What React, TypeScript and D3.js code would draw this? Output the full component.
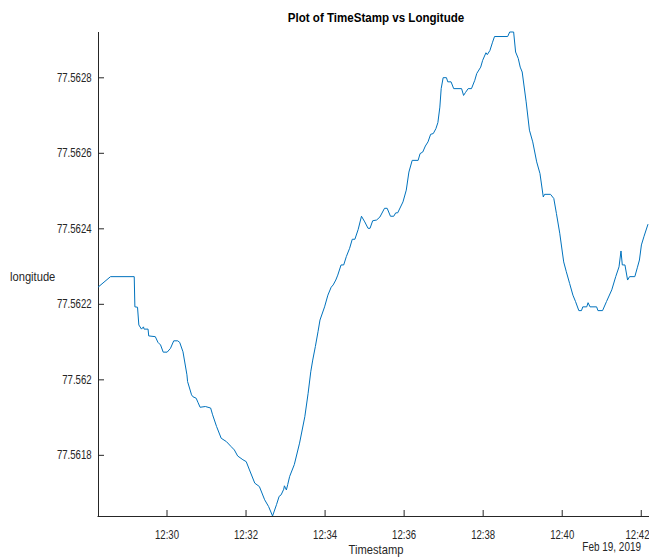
import React, { useEffect, useRef } from 'react'
import * as d3 from 'd3'

// readings from the GPS log, 19 Feb 2019
const timestamps = [
  '12:28:16', '12:28:35', '12:29:11', '12:29:12', '12:29:16', '12:29:18', '12:29:22', '12:29:25',
  '12:29:26', '12:29:32', '12:29:33', '12:29:43', '12:29:47', '12:29:51', '12:29:55', '12:30:01',
  '12:30:06', '12:30:11', '12:30:17', '12:30:20', '12:30:25', '12:30:31', '12:30:32', '12:30:38',
  '12:30:40', '12:30:45', '12:30:48', '12:30:51', '12:30:59', '12:31:07', '12:31:10', '12:31:16',
  '12:31:23', '12:31:31', '12:31:38', '12:31:43', '12:31:48', '12:31:56', '12:32:01', '12:32:06',
  '12:32:14', '12:32:21', '12:32:29', '12:32:35', '12:32:41', '12:32:47', '12:32:51', '12:32:54',
  '12:32:58', '12:32:59', '12:33:02', '12:33:04', '12:33:07', '12:33:14', '12:33:22', '12:33:30',
  '12:33:35', '12:33:39', '12:33:42', '12:33:46', '12:33:50', '12:33:53', '12:34:00', '12:34:05',
  '12:34:10', '12:34:13', '12:34:17', '12:34:20', '12:34:25', '12:34:29', '12:34:33', '12:34:38',
  '12:34:42', '12:34:46', '12:34:51', '12:34:56', '12:35:01', '12:35:06', '12:35:09', '12:35:13',
  '12:35:19', '12:35:24', '12:35:31', '12:35:35', '12:35:40', '12:35:45', '12:35:48', '12:35:51',
  '12:35:59', '12:36:04', '12:36:08', '12:36:13', '12:36:22', '12:36:25', '12:36:29', '12:36:33',
  '12:36:37', '12:36:41', '12:36:45', '12:36:49', '12:36:52', '12:36:55', '12:36:57', '12:37:00',
  '12:37:05', '12:37:07', '12:37:12', '12:37:16', '12:37:28', '12:37:31', '12:37:34', '12:37:38',
  '12:37:43', '12:37:48', '12:37:51', '12:37:57', '12:38:00', '12:38:05', '12:38:07', '12:38:11',
  '12:38:15', '12:38:18', '12:38:38', '12:38:41', '12:38:47', '12:38:50', '12:38:54', '12:38:57',
  '12:39:00', '12:39:06', '12:39:11', '12:39:16', '12:39:22', '12:39:27', '12:39:32', '12:39:34',
  '12:39:43', '12:39:48', '12:39:52', '12:39:57', '12:40:03', '12:40:07', '12:40:12', '12:40:17',
  '12:40:21', '12:40:26', '12:40:30', '12:40:32', '12:40:38', '12:40:40', '12:40:43', '12:40:53',
  '12:40:55', '12:41:02', '12:41:08', '12:41:16', '12:41:22', '12:41:27', '12:41:30', '12:41:32',
  '12:41:36', '12:41:40', '12:41:43', '12:41:51', '12:41:55', '12:41:58', '12:42:01', '12:42:05',
  '12:42:11',
]

const longitudes = [
  77.562244, 77.562272, 77.562272, 77.562192, 77.562191, 77.562144, 77.562133, 77.562139,
  77.562133, 77.562133, 77.562115, 77.562113, 77.562098, 77.562091, 77.562072, 77.562072,
  77.562082, 77.562102, 77.562102, 77.562098, 77.562073, 77.562012, 77.561994, 77.561959,
  77.561954, 77.56195, 77.561938, 77.561926, 77.561928, 77.561924, 77.561906, 77.561875,
  77.561844, 77.561835, 77.561822, 77.561813, 77.561797, 77.561787, 77.561782, 77.56176,
  77.561725, 77.561716, 77.561681, 77.561663, 77.561638, 77.561668, 77.56169, 77.561694,
  77.561709, 77.561718, 77.561707, 77.561721, 77.561743, 77.561774, 77.561831, 77.561901,
  77.561963, 77.56202, 77.562051, 77.562087, 77.562126, 77.562157, 77.562192, 77.562223,
  77.562244, 77.56225, 77.562263, 77.562276, 77.562303, 77.562303, 77.562325, 77.562347,
  77.562371, 77.562371, 77.562397, 77.562432, 77.562417, 77.5624, 77.5624, 77.56242,
  77.562422, 77.56243, 77.562453, 77.562453, 77.562432, 77.562432, 77.562441, 77.562441,
  77.56247, 77.562501, 77.562549, 77.56258, 77.56258, 77.562598, 77.562602, 77.562618,
  77.562629, 77.562649, 77.562651, 77.562664, 77.56268, 77.562721, 77.56277, 77.562799,
  77.562799, 77.562788, 77.562788, 77.56277, 77.56277, 77.562752, 77.56276, 77.56277,
  77.56277, 77.562792, 77.56281, 77.562827, 77.562845, 77.562865, 77.56286, 77.562871,
  77.562893, 77.562908, 77.562908, 77.56292, 77.56292, 77.562867, 77.56285, 77.562827,
  77.562814, 77.562735, 77.56266, 77.562629, 77.562576, 77.562545, 77.562483, 77.56249,
  77.56249, 77.562479, 77.562439, 77.562387, 77.562311, 77.562285, 77.562254, 77.562223,
  77.562206, 77.562182, 77.562182, 77.562192, 77.562192, 77.562203, 77.562192, 77.562192,
  77.562182, 77.562182, 77.562206, 77.562237, 77.562272, 77.562298, 77.56234, 77.562303,
  77.562303, 77.562263, 77.562272, 77.562272, 77.562297, 77.562316, 77.562356, 77.562379,
  77.562411,
]

const yTicks = [77.5618, 77.562, 77.5622, 77.5624, 77.5626, 77.5628]
const dateLabel = 'Feb 19, 2019'

export default function App() {
  const ref = useRef<SVGSVGElement>(null)

  useEffect(() => {
    const width = 649
    const height = 559
    const left = 98
    const top = 32
    const bottom = 516
    const right = 648

    const parse = d3.timeParse('%H:%M:%S')
    const data = timestamps.map((t, i) => ({ t: parse(t) as Date, v: longitudes[i] }))

    const svg = d3.select(ref.current)
    svg.selectAll('*').remove()
    svg.attr('width', width).attr('height', height)

    const x = d3.scaleTime()
      .domain(d3.extent(data, d => d.t) as [Date, Date])
      .range([left, right])
    const y = d3.scaleLinear()
      .domain(d3.extent(data, d => d.v) as [number, number])
      .range([bottom, top])

    const axisColor = '#262626'
    const font = 'Liberation Sans, Arial, Helvetica, sans-serif'
    const sx = 0.8 // the labels in the original look horizontally squeezed

    // x axis, ticks point inward
    const xAxis = d3.axisBottom<Date>(x)
      .ticks(d3.timeMinute.every(2))
      .tickFormat(d3.timeFormat('%H:%M'))
      .tickSizeInner(-6)
      .tickSizeOuter(0)
      .tickPadding(14)
    const gx = svg.append('g')
      .attr('transform', `translate(0,${bottom})`)
      .call(xAxis as any)
    gx.select('.domain').attr('stroke', axisColor).attr('d', `M${left - 0.5},0.5H${width}`)
    gx.selectAll('line').attr('stroke', axisColor)
    gx.selectAll<SVGTextElement, Date>('text')
      .attr('fill', axisColor)
      .attr('font-family', font)
      .attr('font-size', 12)
      .attr('transform', d => {
        // last label would run off the right edge, pull it back in
        const over = x(d) + 12 - width
        return `translate(${over > 0 ? -over : 0},0) scale(${sx},1)`
      })

    // y axis
    const yAxis = d3.axisLeft(y)
      .tickValues(yTicks)
      .tickFormat(d => String(+(+d).toFixed(4)))
      .tickSizeInner(-6)
      .tickSizeOuter(0)
      .tickPadding(8)
    const gy = svg.append('g')
      .attr('transform', `translate(${left},0)`)
      .call(yAxis as any)
    gy.select('.domain').attr('stroke', axisColor).attr('d', `M0.5,${top}V${bottom + 0.5}`)
    gy.selectAll('line').attr('stroke', axisColor)
    gy.selectAll('text')
      .attr('fill', axisColor)
      .attr('font-family', font)
      .attr('font-size', 12)
      .attr('transform', `scale(${sx},1)`)

    const line = d3.line<{ t: Date; v: number }>()
      .x(d => x(d.t))
      .y(d => y(d.v))
    svg.append('path')
      .datum(data)
      .attr('fill', 'none')
      .attr('stroke', '#0072BD')
      .attr('stroke-width', 1)
      .attr('stroke-linejoin', 'round')
      .attr('d', line)

    // title and axis labels (squeezed with a scale, like the ticks)
    const label = (txt: string, px: number, py: number, size: number, k: number, anchor: string, bold = false, color = axisColor) =>
      svg.append('text')
        .attr('transform', `translate(${px},${py}) scale(${k},1)`)
        .attr('text-anchor', anchor)
        .attr('font-family', font)
        .attr('font-weight', bold ? 'bold' : 'normal')
        .attr('font-size', size)
        .attr('fill', color)
        .text(txt)

    label('Plot of TimeStamp vs Longitude', 376, 22, 13, 0.89, 'middle', true, '#000')
    label('Timestamp', 376, 554, 13, 0.86, 'middle')
    label(dateLabel, 641, 551, 12, 0.83, 'end')
    label('longitude', 10, 281, 13, 0.86, 'start')
  }, [])

  return (
    <svg ref={ref} style={{ position: 'absolute', left: 0, top: 0, background: '#fff' }} />
  )
}
